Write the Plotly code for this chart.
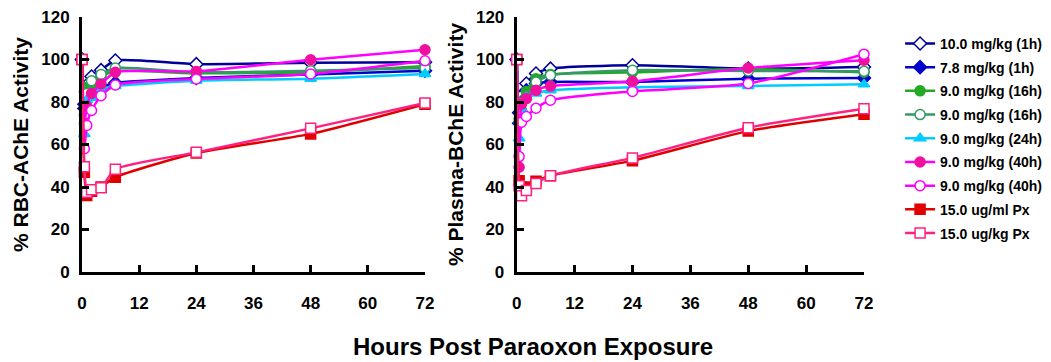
import plotly.graph_objects as go

# ---- data ----
hours = [0, 0.5, 1, 2, 4, 7, 24, 48, 72]

series_names = ["10.0 mg/kg (1h)", "7.8 mg/kg (1h)", "9.0 mg/kg (16h)", "9.0 mg/kg (16h)",
                "9.0 mg/kg (24h)", "9.0 mg/kg (40h)", "9.0 mg/kg (40h)",
                "15.0 ug/ml Px", "15.0 ug/kg Px"]

rbc_10_1h = [100, 77, 88, 92, 95, 99.5, 97.8, 98.5, 98.7]
rbc_78_1h = [100, 79, 84, 86, 87, 89, 91.3, 93, 94.7]
rbc_9_16h_a = [100, 85, 87, 88, 92, 94.5, 93.5, 94, 97]
rbc_9_16h_b = [100, 74, 84, 90, 93, 96, 94, 94.7, 96]
rbc_9_24h = [100, 65, 81, 82, 86, 87.5, 90, 91, 93.2]
rbc_9_40h_a = [100, 70, 78, 84, 88.5, 94, 94.4, 99.9, 104.6]
rbc_9_40h_b = [100, 58, 69, 76, 83, 88, 90.8, 93.2, 99.4]
rbc_px_ml = [100, 47, 36, 38, 40, 44.6, 56, 65, 79]
rbc_px_kg = [100, 49.5, 37.5, 38.7, 39.7, 48.3, 56.3, 67.6, 79.5]

pl_10_1h = [100, 75, 83, 88.7, 93.4, 95.7, 97.3, 95.7, 96.5]
pl_78_1h = [100, 70, 80, 85.5, 88.7, 89.4, 89.4, 91, 91.3]
pl_9_16h_a = [100, 72, 80, 85, 91, 93, 94, 95.5, 94]
pl_9_16h_b = [100, 70.5, 76, 82.3, 89.4, 92.6, 95, 94.6, 94.5]
pl_9_24h = [100, 63, 76.8, 82.3, 84, 85.5, 87, 87.5, 88.3]
pl_9_40h_a = [100, 49.3, 79, 81.6, 85.5, 87.5, 89.7, 96, 99.7]
pl_9_40h_b = [100, 54.3, 70.5, 73.2, 77.1, 80.8, 85, 88.7, 102.5]
pl_px_ml = [100, 43, 39.8, 40, 42.7, 45.3, 52.4, 66.3, 74.2]
pl_px_kg = [100, 40.6, 35.9, 38.3, 41.7, 45.3, 53.7, 67.9, 76.8]

x_ticks = [0, 12, 24, 36, 48, 60, 72]
y_ticks = [0, 20, 40, 60, 80, 100, 120]

rbc_data = [rbc_10_1h, rbc_78_1h, rbc_9_16h_a, rbc_9_16h_b, rbc_9_24h,
            rbc_9_40h_a, rbc_9_40h_b, rbc_px_ml, rbc_px_kg]
pl_data = [pl_10_1h, pl_78_1h, pl_9_16h_a, pl_9_16h_b, pl_9_24h,
           pl_9_40h_a, pl_9_40h_b, pl_px_ml, pl_px_kg]

# ---- styles ----
styles = [
    dict(line="#000099", symbol="diamond", mfill="white", mline="#000099"),
    dict(line="#0000CC", symbol="diamond", mfill="#0000CC", mline="#0000CC"),
    dict(line="#22AA22", symbol="circle", mfill="#22AA22", mline="#22AA22"),
    dict(line="#339966", symbol="circle", mfill="white", mline="#339966"),
    dict(line="#00CCFF", symbol="triangle-up", mfill="#00CCFF", mline="#00CCFF"),
    dict(line="#FF00FF", symbol="circle", mfill="#F010A0", mline="#F010A0"),
    dict(line="#FF00FF", symbol="circle", mfill="white", mline="#FF00FF"),
    dict(line="#E00000", symbol="square", mfill="#E00000", mline="#E00000"),
    dict(line="#FF2080", symbol="square", mfill="white", mline="#FF2080"),
]

fig = go.Figure()

for panel, data in enumerate([rbc_data, pl_data]):
    xa = "x" if panel == 0 else "x2"
    ya = "y" if panel == 0 else "y2"
    for i, (name, vals, st) in enumerate(zip(series_names, data, styles)):
        fig.add_trace(go.Scatter(
            x=hours, y=vals, name=name, mode="lines+markers",
            xaxis=xa, yaxis=ya,
            legendgroup=f"g{i}", showlegend=(panel == 0),
            line=dict(color=st["line"], width=2.5, shape="spline", smoothing=0.6),
            marker=dict(symbol=st["symbol"], size=10,
                        color=st["mfill"], line=dict(color=st["mline"], width=1.5)),
            cliponaxis=False,
        ))

FONT = "Liberation Sans, Arial"
axis_common = dict(
    showline=True, linecolor="black", linewidth=3,
    ticks="inside", ticklen=7, tickwidth=3, tickcolor="black",
    showgrid=False, zeroline=False, automargin=False,
    tickfont=dict(family=FONT, size=17, color="black", weight="bold"),
)

fig.update_layout(
    width=1051, height=362,
    margin=dict(l=82, r=187, t=17, b=90, autoexpand=False),
    paper_bgcolor="white", plot_bgcolor="white",
    font=dict(family=FONT, color="black"),
    xaxis=dict(domain=[0, 0.4386], range=[0, 72], tickvals=x_ticks,
               ticklabelstandoff=14, anchor="y", **axis_common),
    xaxis2=dict(domain=[0.5559, 1], range=[0, 72], tickvals=x_ticks,
                ticklabelstandoff=14, anchor="y2", **axis_common),
    yaxis=dict(range=[0, 120], tickvals=y_ticks, anchor="x", ticklabelstandoff=6,
               title=dict(text="% RBC-AChE Activity", standoff=7,
                          font=dict(size=21, weight="bold", family=FONT)),
               **axis_common),
    yaxis2=dict(range=[0, 120], tickvals=y_ticks, anchor="x2", ticklabelstandoff=6,
                title=dict(text="% Plasma-BChE Activity", standoff=7,
                           font=dict(size=21, weight="bold", family=FONT)),
                **axis_common),
    legend=dict(
        xref="container", yref="container", x=0.8564, y=0.923,
        xanchor="left", yanchor="top", maxheight=330,
        font=dict(family=FONT, size=14, color="black", weight="bold"),
        bgcolor="rgba(0,0,0,0)", tracegroupgap=2.5,
    ),
    annotations=[dict(
        text="Hours Post Paraoxon Exposure", xref="paper", yref="paper",
        x=0.577, y=-0.294, xanchor="center", yanchor="middle", showarrow=False,
        font=dict(family=FONT, size=24, color="black", weight="bold"),
    )],
)

fig.write_html("out.html", config={"displayModeBar": False},
               post_script="document.body.style.margin='0px';")
